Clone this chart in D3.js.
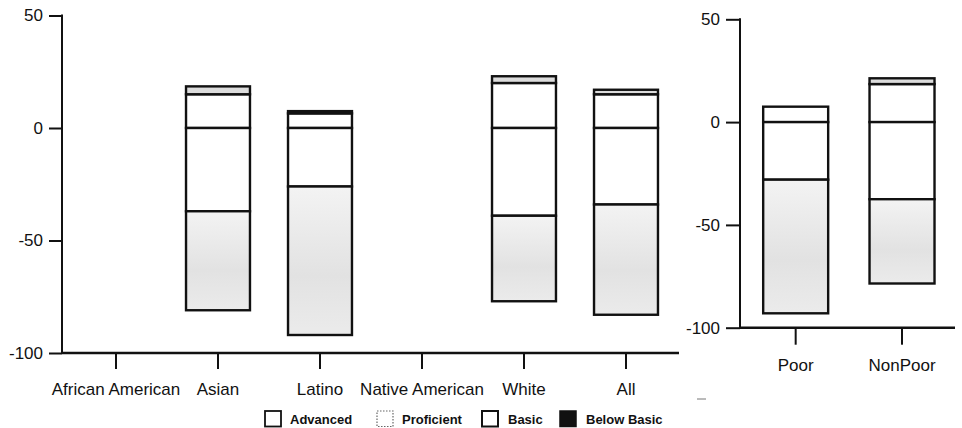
<!DOCTYPE html>
<html>
<head>
<meta charset="utf-8">
<script src="https://cdn.jsdelivr.net/npm/d3@7"></script>
<style>
  html, body { margin: 0; padding: 0; background: #fff; }
  svg { display: block; }
  text { font-family: "Liberation Sans", Arial, sans-serif; fill: #111; }
</style>
</head>
<body>
<script>
// ---- Data ----
const categoriesLeft = ["African American", "Asian", "Latino", "Native American", "White", "All"];
const advancedLeft    = [null, 3.5, 1,   null, 3,  2];
const proficientLeft  = [null, 15,  6.5, null, 20, 15];
const basicLeft       = [null, 37,  26,  null, 39, 34];
const belowBasicLeft  = [null, 44,  66,  null, 38, 49];

const categoriesRight = ["Poor", "NonPoor"];
const advancedRight   = [0, 2.8];
const proficientRight = [7.5, 18.5];
const basicRight      = [28, 37.5];
const belowBasicRight = [65, 41];

const yTicks = [50, 0, -50, -100];
const yTickLabels = ["50", "0", "-50", "-100"];
const legendLabels = ["Advanced", "Proficient", "Basic", "Below Basic"];

// ---- Setup ----
const W = 962, H = 428;
const svg = d3.select("body").append("svg").attr("width", W).attr("height", H);

// stipple-like gradient for the lowest segment
const defs = svg.append("defs");
const grad = defs.append("linearGradient").attr("id", "stip").attr("x1", 0).attr("x2", 0).attr("y1", 0).attr("y2", 1);
grad.append("stop").attr("offset", "0%").attr("stop-color", "#f3f3f3");
grad.append("stop").attr("offset", "60%").attr("stop-color", "#e2e2e2");
grad.append("stop").attr("offset", "100%").attr("stop-color", "#ebebeb");

const fills = { adv: "#dcdcdc", prof: "#ffffff", basic: "#ffffff", below: "url(#stip)" };

function drawPanel(cfg) {
  const g = svg.append("g");
  const y = d3.scaleLinear().domain([-100, 50]).range([cfg.y0, cfg.y1]);
  const x = d3.scaleBand().domain(cfg.cats).range(cfg.xr)
    .paddingInner(cfg.pin).paddingOuter(cfg.pin / 2);

  // bars
  cfg.cats.forEach((c, i) => {
    if (cfg.prof[i] == null) return;
    const segs = [
      { a: 0, b: cfg.prof[i], f: fills.prof },
      { a: cfg.prof[i], b: cfg.prof[i] + cfg.adv[i], f: fills.adv },
      { a: -cfg.basic[i], b: 0, f: fills.basic },
      { a: -cfg.basic[i] - cfg.below[i], b: -cfg.basic[i], f: fills.below }
    ];
    segs.forEach(s => {
      if (s.b - s.a <= 0) return;
      g.append("rect")
        .attr("x", x(c)).attr("width", x.bandwidth())
        .attr("y", y(s.b)).attr("height", y(s.a) - y(s.b))
        .attr("fill", s.f).attr("stroke", "#111").attr("stroke-width", 2.4);
    });
  });

  // y axis
  const ya = d3.axisLeft(y).tickValues(yTicks)
    .tickFormat((d, i) => yTickLabels[i]).tickSize(cfg.ytick).tickPadding(6).tickSizeOuter(0);
  const yg = g.append("g").attr("transform", `translate(${cfg.ax},0)`).call(ya);
  yg.select(".domain").remove();
  yg.selectAll("line").attr("stroke", "#111").attr("stroke-width", 2);
  yg.selectAll("text").style("font-size", "17px").style("font-family", "Liberation Sans, Arial, sans-serif").attr("fill", "#111");
  g.append("line").attr("x1", cfg.ax).attr("x2", cfg.ax)
    .attr("y1", y(50) - 1).attr("y2", y(-100) + 1)
    .attr("stroke", "#111").attr("stroke-width", 2);

  // x axis
  const xa = d3.axisBottom(x).tickSize(cfg.xtick).tickPadding(14).tickSizeOuter(0);
  const xg = g.append("g").attr("transform", `translate(0,${y(-100)})`).call(xa);
  xg.select(".domain").remove();
  xg.selectAll("line").attr("stroke", "#111").attr("stroke-width", 2);
  xg.selectAll("text").style("font-size", "17px").style("font-family", "Liberation Sans, Arial, sans-serif").attr("fill", "#111");
  g.append("line").attr("x1", cfg.ax).attr("x2", cfg.xend)
    .attr("y1", y(-100)).attr("y2", y(-100))
    .attr("stroke", "#111").attr("stroke-width", 2.5);
}

drawPanel({
  cats: categoriesLeft, adv: advancedLeft, prof: proficientLeft, basic: basicLeft, below: belowBasicLeft,
  y0: 353, y1: 15.5, xr: [65, 677], pin: 0.373, ax: 62, xend: 679, ytick: 13, xtick: 16
});
drawPanel({
  cats: categoriesRight, adv: advancedRight, prof: proficientRight, basic: basicRight, below: belowBasicRight,
  y0: 327.7, y1: 19.3, xr: [742.5, 955.2], pin: 0.389, ax: 740, xend: 955, ytick: 14, xtick: 17
});

// ---- Legend ----
const lg = svg.append("g");
const boxX = [265, 377, 482, 560];
const textX = [290, 402, 508, 586];
const boxStyles = [
  { fill: "#fff", stroke: "#111", dash: null, sw: 1.8 },
  { fill: "#fff", stroke: "#666", dash: "1.5,1.5", sw: 1.2 },
  { fill: "#fff", stroke: "#111", dash: null, sw: 2 },
  { fill: "#111", stroke: "#111", dash: null, sw: 1.5 }
];
legendLabels.forEach((lab, i) => {
  const s = boxStyles[i];
  lg.append("rect").attr("x", boxX[i]).attr("y", 411).attr("width", 16).attr("height", 15.5)
    .attr("fill", s.fill).attr("stroke", s.stroke).attr("stroke-width", s.sw)
    .attr("stroke-dasharray", s.dash);
  lg.append("text").attr("x", textX[i]).attr("y", 424)
    .style("font-size", "13px").style("font-weight", "bold").text(lab);
});

// small scan mark
svg.append("line").attr("x1", 697).attr("x2", 706).attr("y1", 399).attr("y2", 399)
  .attr("stroke", "#777").attr("stroke-width", 1);
</script>
</body>
</html>
